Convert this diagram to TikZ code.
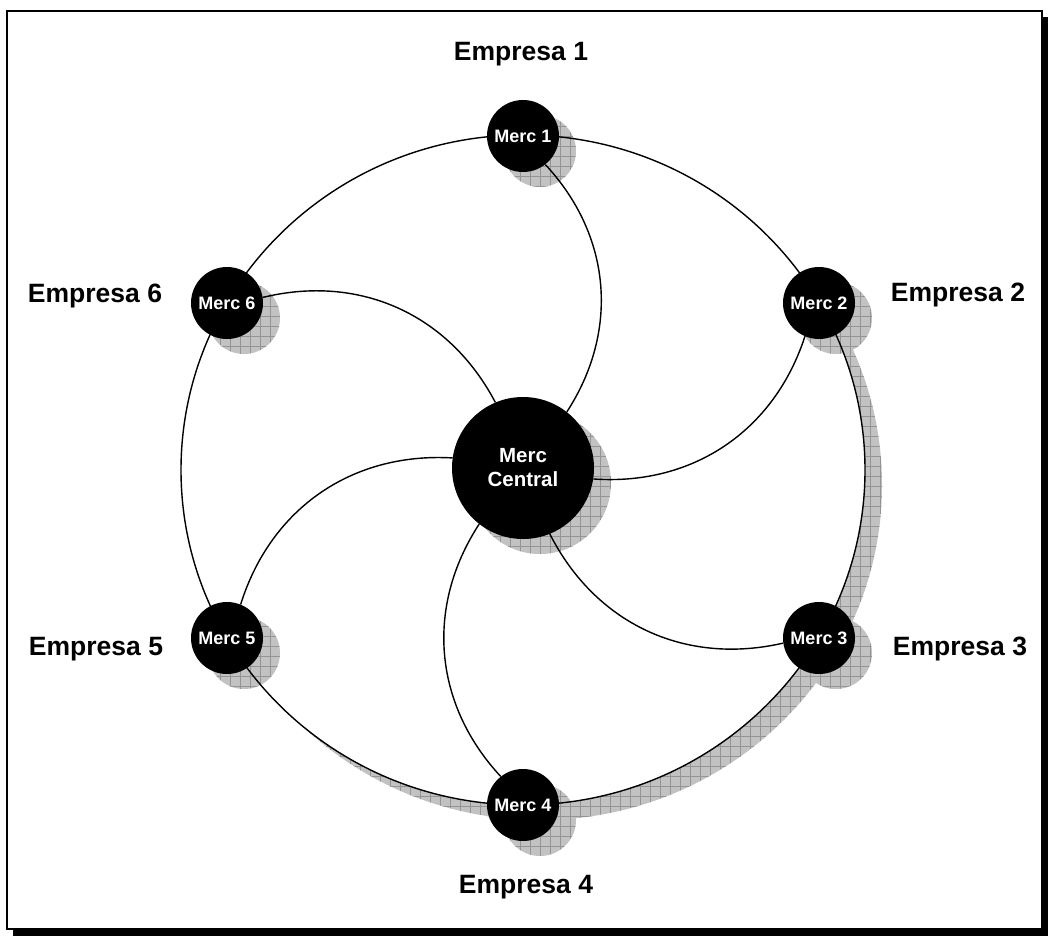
\documentclass[tikz,border=0pt]{standalone}
\usepackage{fontspec}
\setmainfont{Liberation Sans}
\usetikzlibrary{patterns.meta}
\begin{document}
\begin{tikzpicture}[x=1pt,y=-1pt,
  hatch/.style={fill=black!24,
    postaction={pattern={Lines[angle=0,distance=10pt,line width=0.6pt]},pattern color=black!42},
    postaction={pattern={Lines[angle=90,distance=10pt,line width=0.6pt]},pattern color=black!42}},
  shad/.style={circle, hatch, inner sep=0pt, xshift=17pt, yshift=-15pt},
  merc/.style={circle, fill=black, minimum size=72pt, inner sep=0pt, text=white,
    font=\bfseries\fontsize{18}{21}\selectfont},
  central/.style={circle, fill=black, minimum size=142pt, inner sep=0pt, text=white, align=center,
    font=\bfseries\fontsize{20.5}{24}\selectfont},
  lab/.style={anchor=base, font=\bfseries\fontsize{26.5}{30}\selectfont},
  link/.style={line width=1.4pt, black}]
\useasboundingbox (0,0) rectangle (1048,936);
% frame with shadow
\fill[black] (13,17) rectangle (1048,936);
\draw[line width=2pt, fill=white] (7,11.5) rectangle (1042,929);
% coordinates
\coordinate (p1) at (523,136);
\coordinate (p2) at (819,303);
\coordinate (p3) at (819,638);
\coordinate (p4) at (523,805);
\coordinate (p5) at (227,638);
\coordinate (p6) at (227,303);
\coordinate (pc) at (523,468);
% shadow of the ring
\begin{scope}
  \clip (523,470) -- (1216,70) -- (1216,1400) -- (-170,1400) -- (-170,870) -- cycle;
  \fill[hatch] (540,485) ellipse [x radius=342, y radius=335];
\end{scope}
\fill[white] (523,470) ellipse [x radius=342, y radius=335];
% node shadows
\foreach \p in {p1,p2,p3,p4,p5,p6}
  \node[shad, minimum size=72pt] at (\p) {};
\node[shad, minimum size=142pt] at (pc) {};
% ring
\draw[link] (523,470) ellipse [x radius=342, y radius=335];
% nodes
\node[merc] (m1) at (p1) {Merc 1};
\node[merc] (m2) at (p2) {Merc 2};
\node[merc] (m3) at (p3) {Merc 3};
\node[merc] (m4) at (p4) {Merc 4};
\node[merc] (m5) at (p5) {Merc 5};
\node[merc] (m6) at (p6) {Merc 6};
\node[central] (c) at (pc) {Merc\\Central};
% spiral links
\foreach \m in {m1,m2,m3,m4,m5,m6}
  \draw[link] (\m) to[bend left=38] (c);
% labels
\node[lab] (e1) at (521,61) {Empresa 1};
\node[lab] (e2) at (958,301) {Empresa 2};
\node[lab] (e3) at (960,655) {Empresa 3};
\node[lab] (e4) at (526,893) {Empresa 4};
\node[lab] (e5) at (96,655) {Empresa 5};
\node[lab] (e6) at (95,302) {Empresa 6};
\end{tikzpicture}
\end{document}
